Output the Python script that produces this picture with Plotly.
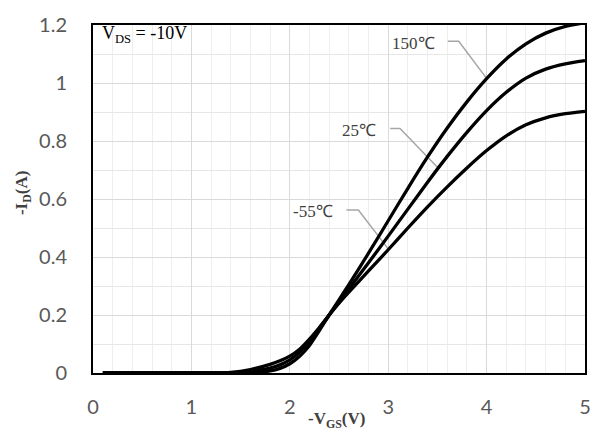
import plotly.graph_objects as go

# ---- data ----
vgs = [0.1, 0.5, 1.0, 1.2, 1.4, 1.6, 1.8, 1.9, 2.0, 2.1, 2.2, 2.3, 2.4, 2.5, 2.6,
       2.8, 3.0, 3.2, 3.4, 3.6, 3.8, 4.0, 4.2, 4.4, 4.6, 4.8, 5.0]
id_m55 = [0, 0, 0, 0, 0.002, 0.012, 0.03, 0.042, 0.058, 0.082, 0.117, 0.157, 0.2,
          0.241, 0.279, 0.352, 0.425, 0.5, 0.573, 0.642, 0.707, 0.767, 0.818,
          0.856, 0.88, 0.894, 0.902]
id_25 = [0, 0, 0, 0, 0, 0.005, 0.017, 0.028, 0.045, 0.072, 0.108, 0.152, 0.2,
         0.245, 0.29, 0.38, 0.472, 0.565, 0.658, 0.747, 0.83, 0.905, 0.968,
         1.017, 1.048, 1.066, 1.077]
id_150 = [0, 0, 0, 0, 0, 0.001, 0.007, 0.016, 0.032, 0.058, 0.095, 0.146, 0.2,
          0.252, 0.305, 0.413, 0.525, 0.637, 0.745, 0.845, 0.935, 1.015, 1.083,
          1.135, 1.172, 1.195, 1.208]

series_names = ["-55℃", "25℃", "150℃"]
series_values = [id_m55, id_25, id_150]

# label text anchor (right end) and leader line points
label_pos = [(2.455, 0.556), (2.90, 0.836), (3.495, 1.137)]
leader_x = [[2.576, 2.697, 3.0], [3.02, 3.12, 3.505], [3.606, 3.717, 4.0]]
leader_y = [[0.562, 0.562, 0.428], [0.843, 0.843, 0.708], [1.144, 1.144, 1.016]]

x_ticks = [0, 1, 2, 3, 4, 5]
y_ticks = [0, 0.2, 0.4, 0.6, 0.8, 1, 1.2]
y_tick_text = ["0", "0.2", "0.4", "0.6", "0.8", "1", "1.2"]

fig = go.Figure()

for lx, ly in zip(leader_x, leader_y):
    fig.add_trace(go.Scatter(x=lx, y=ly, mode="lines",
                             line=dict(color="#a6a6a6", width=1.5),
                             hoverinfo="skip", showlegend=False))

for name, vals in zip(series_names, series_values):
    fig.add_trace(go.Scatter(x=vgs, y=vals, mode="lines", name=name,
                             line=dict(color="black", width=3.3, shape="spline", smoothing=0.6),
                             showlegend=False))

for name, (lx, ly) in zip(series_names, label_pos):
    fig.add_annotation(x=lx, y=ly, text=name, showarrow=False, xanchor="right",
                       yanchor="middle",
                       font=dict(family="Liberation Serif", size=17, color="#404040"))

fig.add_annotation(xref="paper", yref="paper", x=0.014, y=0.972, xanchor="left",
                   yanchor="middle", showarrow=False,
                   text="V<sub>DS</sub> = -10V",
                   font=dict(family="Liberation Serif", size=18, color="black"))

fig.add_annotation(xref="paper", yref="paper", x=0.495, y=-0.135, xanchor="center",
                   yanchor="middle", showarrow=False,
                   text="<b>-V<sub>GS</sub>(V)</b>",
                   font=dict(family="Liberation Serif", size=17, color="#404040"))

fig.add_annotation(xref="paper", yref="paper", x=-0.141, y=0.516, xanchor="center",
                   yanchor="middle", showarrow=False, textangle=-90,
                   text="<b>-I<sub>D</sub>(A)</b>",
                   font=dict(family="Liberation Serif", size=17, color="#404040"))

fig.update_layout(
    width=603, height=433,
    margin=dict(l=93, r=15, t=18, b=60),
    paper_bgcolor="white", plot_bgcolor="white",
    font=dict(family="Lato", size=20, color="#595959"),
)
fig.update_xaxes(range=[0, 5], tickvals=x_ticks, ticks="", ticklabelstandoff=15,
                 showgrid=True, gridcolor="#d9d9d9", gridwidth=1.2,
                 minor=dict(dtick=0.2, showgrid=True, gridcolor="#eeeeee", gridwidth=1.2),
                 showline=True, mirror=True, linecolor="black", linewidth=2,
                 zeroline=False, tickfont=dict(family="Lato", size=20, color="#595959"))
fig.update_yaxes(range=[0, 1.2], tickvals=y_ticks, ticktext=y_tick_text, ticks="",
                 ticklabelstandoff=20,
                 showgrid=True, gridcolor="#d9d9d9", gridwidth=1.2,
                 minor=dict(dtick=0.1, showgrid=True, gridcolor="#e6e6e6", gridwidth=1.2),
                 showline=True, mirror=True, linecolor="black", linewidth=2,
                 zeroline=False, tickfont=dict(family="Lato", size=20, color="#595959"))

fig.write_html("out.html")
